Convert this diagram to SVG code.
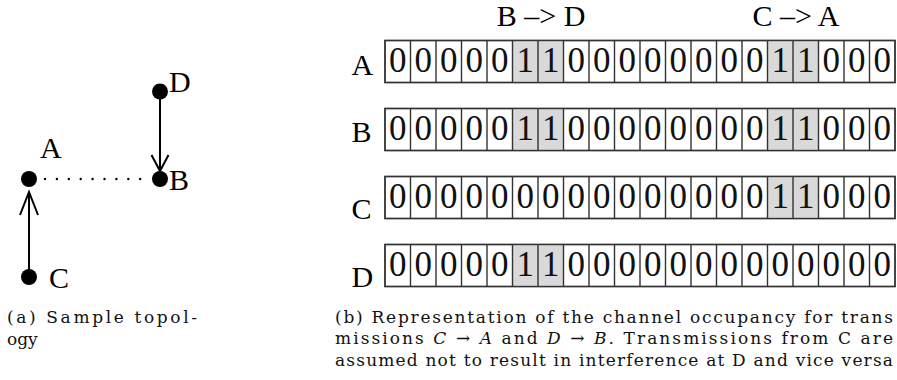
<svg xmlns="http://www.w3.org/2000/svg" width="897" height="380" viewBox="0 0 897 380">
<style>
.lbl{font-family:"Liberation Serif","Times New Roman",serif;font-size:30px;fill:#000}
.dig{font-family:"Liberation Serif","Times New Roman",serif;font-size:35px;fill:#111}
.cap{font-family:"DejaVu Serif","Liberation Serif",serif;font-size:17px;fill:#111}
.cell{fill:#fff;stroke:#333;stroke-width:1.4}
.hi{fill:#d9d9d9;stroke:none}
.grid{fill:none;stroke:#333;stroke-width:1.4}
.edge{fill:none;stroke:#000;stroke-width:2}
.dot{fill:#000}
</style>
<defs>
<path id="vlines" class="grid" d="M410.5 0V42M436 0V42M461.5 0V42M487 0V42M512.5 0V42M538 0V42M563.5 0V42M589 0V42M614.5 0V42M640 0V42M665.5 0V42M691 0V42M716.5 0V42M742 0V42M767.5 0V42M793 0V42M818.5 0V42M844 0V42M869.5 0V42"/>
</defs>

<!-- topology (a) -->
<g id="connectors">
  <line class="edge" x1="160" y1="92" x2="160" y2="171"/>
  <polyline class="edge" points="151.5,155 160,171 168.5,155"/>
  <line class="edge" x1="29" y1="277" x2="29" y2="192"/>
  <polyline class="edge" points="20,215 29,192 38,215"/>
  <line x1="45" y1="179" x2="141" y2="179" stroke="#000" stroke-width="2.4" stroke-linecap="round" stroke-dasharray="0 11.9"/>
</g>
<g id="node-D"><circle class="dot" cx="160" cy="91.5" r="8"/><text class="lbl" x="169" y="92">D</text></g>
<g id="node-B"><circle class="dot" cx="160" cy="179" r="8"/><text class="lbl" x="169" y="190">B</text></g>
<g id="node-A"><circle class="dot" cx="29" cy="179" r="8"/><text class="lbl" x="40" y="157.5">A</text></g>
<g id="node-C"><circle class="dot" cx="29" cy="277" r="8"/><text class="lbl" x="49" y="288">C</text></g>

<!-- channel occupancy (b) -->
<g id="headers">
  <text class="lbl" x="541" y="26" font-size="28.5" text-anchor="middle">B –&gt; D</text>
  <text class="lbl" x="796" y="26" font-size="28.5" text-anchor="middle">C –&gt; A</text>
</g>

<g id="row-A">
  <text class="lbl" x="351.5" y="75">A</text>
  <rect class="cell" x="385" y="40.5" width="510" height="42"/>
  <rect class="hi" x="512.5" y="41" width="51" height="41"/>
  <rect class="hi" x="767.5" y="41" width="51" height="41"/>
  <use href="#vlines" transform="translate(0,40.5)"/>
  <rect class="grid" x="385" y="40.5" width="510" height="42"/>
  <text class="dig" text-anchor="middle" y="72" x="397.75 423.25 448.75 474.25 499.75 525.25 550.75 576.25 601.75 627.25 652.75 678.25 703.75 729.25 754.75 780.25 805.75 831.25 856.75 882.25">00000110000000011000</text>
</g>

<g id="row-B">
  <text class="lbl" x="351.5" y="142">B</text>
  <rect class="cell" x="385" y="108.5" width="510" height="42"/>
  <rect class="hi" x="512.5" y="109" width="51" height="41"/>
  <rect class="hi" x="767.5" y="109" width="51" height="41"/>
  <use href="#vlines" transform="translate(0,108.5)"/>
  <rect class="grid" x="385" y="108.5" width="510" height="42"/>
  <text class="dig" text-anchor="middle" y="140" x="397.75 423.25 448.75 474.25 499.75 525.25 550.75 576.25 601.75 627.25 652.75 678.25 703.75 729.25 754.75 780.25 805.75 831.25 856.75 882.25">00000110000000011000</text>
</g>

<g id="row-C">
  <text class="lbl" x="351.5" y="218.5">C</text>
  <rect class="cell" x="385" y="176.5" width="510" height="42"/>
  <rect class="hi" x="767.5" y="177" width="51" height="41"/>
  <use href="#vlines" transform="translate(0,176.5)"/>
  <rect class="grid" x="385" y="176.5" width="510" height="42"/>
  <text class="dig" text-anchor="middle" y="208" x="397.75 423.25 448.75 474.25 499.75 525.25 550.75 576.25 601.75 627.25 652.75 678.25 703.75 729.25 754.75 780.25 805.75 831.25 856.75 882.25">00000000000000011000</text>
</g>

<g id="row-D">
  <text class="lbl" x="351.5" y="286.5">D</text>
  <rect class="cell" x="385" y="244.5" width="510" height="42"/>
  <rect class="hi" x="512.5" y="245" width="51" height="41"/>
  <use href="#vlines" transform="translate(0,244.5)"/>
  <rect class="grid" x="385" y="244.5" width="510" height="42"/>
  <text class="dig" text-anchor="middle" y="276" x="397.75 423.25 448.75 474.25 499.75 525.25 550.75 576.25 601.75 627.25 652.75 678.25 703.75 729.25 754.75 780.25 805.75 831.25 856.75 882.25">00000110000000000000</text>
</g>

<!-- captions -->
<g id="caption-a">
  <text class="cap" x="7" y="322.5" textLength="190" lengthAdjust="spacing">(a) Sample topol-</text>
  <text class="cap" x="7" y="344.5">ogy</text>
</g>
<g id="caption-b">
  <text class="cap" x="335" y="322.5" textLength="558" lengthAdjust="spacing">(b) Representation of the channel occupancy for trans</text>
  <text class="cap" x="335" y="344" textLength="558" lengthAdjust="spacing">missions <tspan font-style="italic">C</tspan> → <tspan font-style="italic">A</tspan> and <tspan font-style="italic">D</tspan> → <tspan font-style="italic">B</tspan>. Transmissions from C are</text>
  <text class="cap" x="335" y="366" textLength="558" lengthAdjust="spacing">assumed not to result in interference at D and vice versa</text>
</g>
</svg>
